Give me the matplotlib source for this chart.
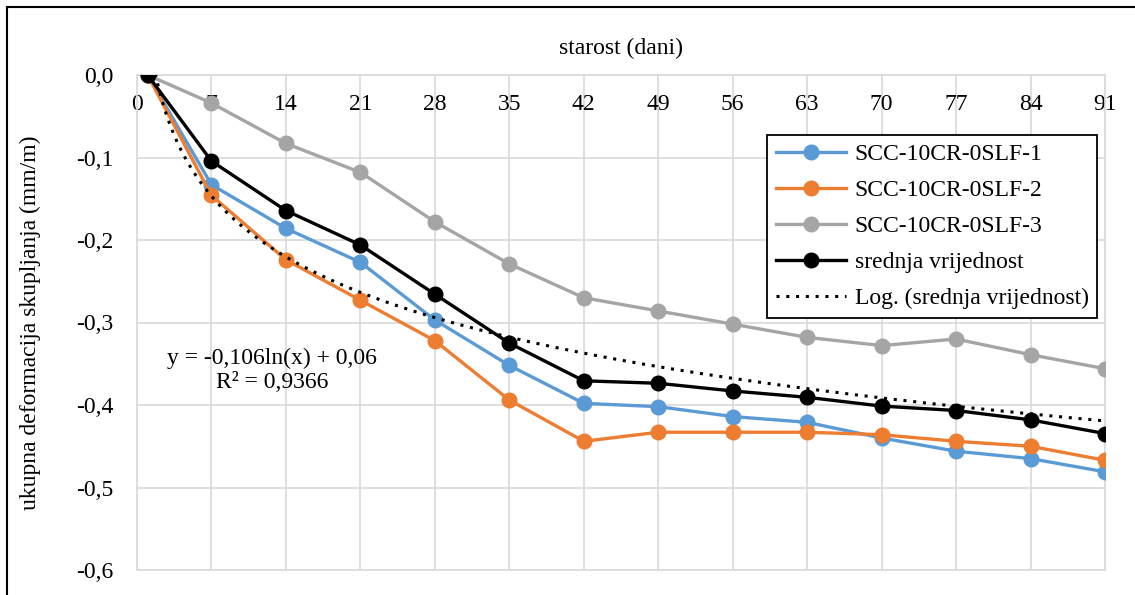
import numpy as np
import matplotlib
matplotlib.use('Agg')
import matplotlib.pyplot as plt
from matplotlib.patches import Rectangle
from matplotlib.ticker import FuncFormatter, MultipleLocator

plt.rcParams['font.family'] = ['Liberation Serif', 'DejaVu Serif']

# starost uzorka (dani)
days = [1, 7, 14, 21, 28, 35, 42, 49, 56, 63, 70, 77, 84, 91]

scc1 = [0.0, -0.133, -0.186, -0.227, -0.297, -0.352, -0.398, -0.402,
        -0.414, -0.421, -0.440, -0.456, -0.465, -0.481]
scc2 = [0.0, -0.146, -0.224, -0.273, -0.322, -0.394, -0.444, -0.433,
        -0.433, -0.433, -0.436, -0.444, -0.450, -0.467]
scc3 = [0.0, -0.034, -0.083, -0.118, -0.178, -0.229, -0.270, -0.286,
        -0.302, -0.318, -0.328, -0.320, -0.339, -0.356]

labels = ['SCC-10CR-0SLF-1', 'SCC-10CR-0SLF-2', 'SCC-10CR-0SLF-3']
colors = ['#5B9BD5', '#ED7D31', '#A5A5A5']

mean = np.mean([scc1, scc2, scc3], axis=0)

# logaritamski trend srednje vrijednosti
k, n = np.polyfit(np.log(days), mean, 1)
xt = np.linspace(days[0], days[-1], 400)
yt = k * np.log(xt) + n

fs = 17

fig = plt.figure(figsize=(11.35, 5.95), dpi=100)
ax = fig.add_axes([137 / 1135, 1 - 570 / 595, 968 / 1135, 495 / 595])

for vals, lab, c in zip([scc1, scc2, scc3], labels, colors):
    ax.plot(days, vals, color=c, lw=2.4, marker='o', ms=10.5, label=lab, zorder=3)
ax.plot(days, mean, color='black', lw=2.4, marker='o', ms=10.5,
        label='srednja vrijednost', zorder=4)
ax.plot(xt, yt, color='black', lw=2.2, ls=(0, (1, 2.2)),
        label='Log. (srednja vrijednost)', zorder=5)

ax.set_xlim(0, 91)
ax.set_ylim(-0.6, 0)
ax.xaxis.set_major_locator(MultipleLocator(7))
ax.yaxis.set_major_locator(MultipleLocator(0.1))
ax.yaxis.set_major_formatter(FuncFormatter(lambda v, p: f'{v:.1f}'.replace('.', ',')))
ax.grid(True, color='#D9D9D9', lw=1.2)
ax.set_axisbelow(True)
for s in ax.spines.values():
    s.set_color('#D9D9D9')
    s.set_linewidth(1.2)

ax.xaxis.set_label_position('top')
ax.tick_params(axis='x', top=True, bottom=False, labeltop=True, labelbottom=False,
               length=0, pad=-29, labelsize=fs)
ax.tick_params(axis='y', length=0, pad=17, labelsize=fs)
ax.set_xlabel('starost (dani)', fontsize=fs, labelpad=15)
ax.set_ylabel('ukupna deformacija skupljanja (mm/m)', fontsize=fs, labelpad=25)

ax.text(0.1395, 0.404, 'y = -0,106ln(x) + 0,06\nR² = 0,9366',
        transform=ax.transAxes, ha='center', va='center', fontsize=fs,
        linespacing=1.2)

leg = ax.legend(loc='upper right', bbox_to_anchor=(1097 / 1135, 1 - 135 / 595),
                bbox_transform=fig.transFigure, fontsize=fs, fancybox=False,
                edgecolor='black', framealpha=1, handlelength=3.0,
                handletextpad=0.35, borderpad=0.35, labelspacing=0.62,
                borderaxespad=0)
leg.get_frame().set_linewidth(1.3)

fig.patches.append(Rectangle((7 / 1135, -0.2), 1.2, 1.2 - 7 / 595,
                             transform=fig.transFigure, fill=False,
                             edgecolor='black', lw=1.5))

fig.savefig('out.png', dpi=100)
